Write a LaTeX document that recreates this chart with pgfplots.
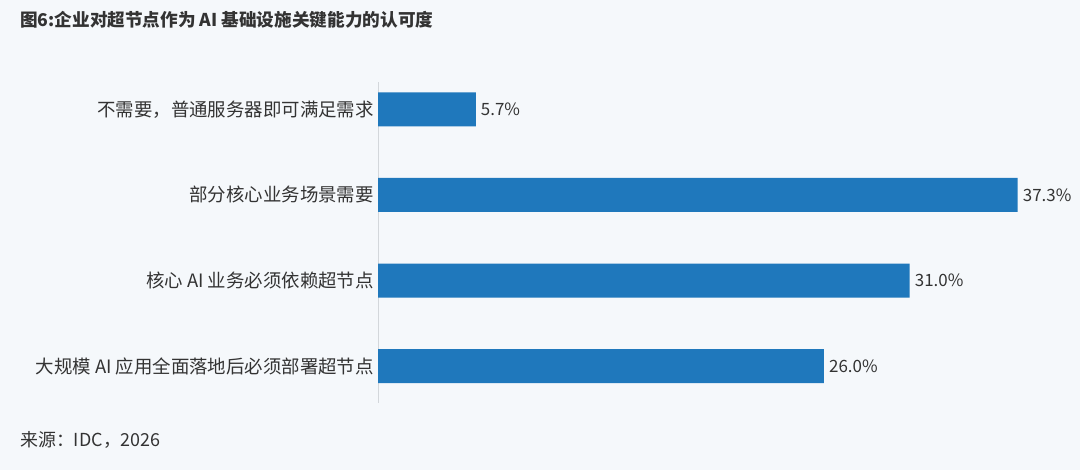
\documentclass[border=0pt]{standalone}
\usepackage{fontspec}
\setmainfont{Noto Sans CJK SC}
\usepackage{pgfplots}
\pgfplotsset{compat=1.18}

\definecolor{bgcol}{HTML}{F5F8FB}
\definecolor{barcol}{HTML}{1F78BC}
\definecolor{txtcol}{HTML}{333333}
\definecolor{axcol}{HTML}{D3D7DB}

\begin{document}
\begin{tikzpicture}[x=1bp,y=1bp]
  % background, 1080 x 470
  \fill[bgcol] (0,0) rectangle (1080,470);

  \node[anchor=west, font=\fontsize{17.7}{20}\selectfont\bfseries, text=txtcol, inner sep=0pt]
    at (20,450) {图6:企业对超节点作为 AI 基础设施关键能力的认可度};
  \node[anchor=west, font=\fontsize{18}{20}\selectfont, text=txtcol, inner sep=0pt]
    at (20,30) {来源：IDC，2026};

  \begin{axis}[
      at={(378bp,67bp)}, anchor=south west,
      width=686bp, height=321bp, scale only axis,
      xbar, bar width=34bp,
      xmin=0, xmax=40,
      ymin=-0.43, ymax=3.32,
      axis x line=none,
      axis y line*=left,
      y axis line style={-, draw=axcol, line width=0.8pt},
      ytick={0,1,2,3},
      yticklabels={大规模 AI 应用全面落地后必须部署超节点,
                   核心 AI 业务必须依赖超节点,
                   部分核心业务场景需要,
                   不需要，普通服务器即可满足需求},
      major tick length=0pt,
      yticklabel style={font=\fontsize{18.5}{20}\selectfont, text=txtcol, inner sep=0pt, xshift=-4bp},
      /pgf/number format/assume math mode=true,
      nodes near coords={\pgfmathprintnumber[fixed,fixed zerofill,precision=1]{\pgfplotspointmeta}\%},
      nodes near coords style={font=\fontsize{17}{20}\selectfont, text=txtcol, anchor=west, inner sep=0pt, xshift=5bp},
      clip=false,
    ]
    \addplot[fill=barcol, draw=none] coordinates {
      (26.0,0)
      (31.0,1)
      (37.3,2)
      (5.7,3)
    };
  \end{axis}
\end{tikzpicture}
\end{document}
